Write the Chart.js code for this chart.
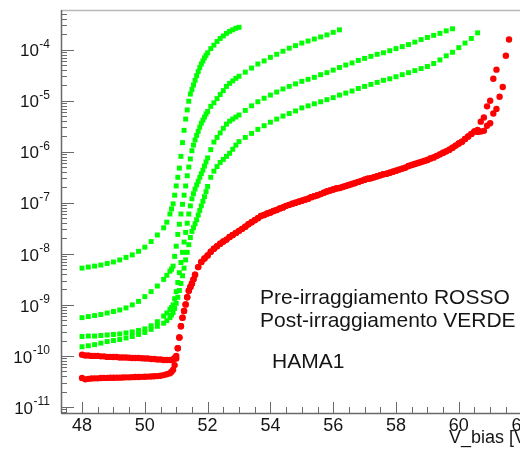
<!DOCTYPE html>
<html>
<head>
<meta charset="utf-8">
<script src="https://cdn.jsdelivr.net/npm/chart.js@4.4.1/dist/chart.umd.min.js"></script>
<style>
  html, body { margin: 0; padding: 0; background: #fff; overflow: hidden; }
  #wrap { width: 540px; height: 449px; }
</style>
</head>
<body>
<div id="wrap"><canvas id="ivChart" width="540" height="449"></canvas></div>
<script>
// ====== Data: HAMA1, I [A] vs V_bias [V] ======
// Pre-irraggiamento (rosso): two scans, flat start differs, then they overlap
const redFlatLow = [
  [48.0, 3.7e-11], [48.1, 3.47e-11], [48.2, 3.55e-11], [48.3, 3.6e-11], [48.4, 3.63e-11],
  [48.5, 3.63e-11], [48.6, 3.68e-11], [48.7, 3.7e-11], [48.8, 3.7e-11], [48.9, 3.72e-11],
  [49.0, 3.72e-11], [49.1, 3.75e-11], [49.2, 3.75e-11], [49.3, 3.78e-11], [49.4, 3.8e-11],
  [49.5, 3.8e-11], [49.6, 3.83e-11], [49.7, 3.85e-11], [49.8, 3.85e-11], [49.9, 3.88e-11],
  [50.0, 3.9e-11], [50.1, 3.93e-11], [50.2, 3.95e-11], [50.3, 3.98e-11], [50.4, 4.02e-11],
  [50.5, 4.07e-11], [50.6, 4.2e-11], [50.7, 4.37e-11], [50.8, 4.57e-11], [50.85, 4.9e-11],
  [50.9, 5.37e-11], [50.95, 6.6e-11], [51.0, 8.9e-11]
];
const redFlatHigh = [
  [48.0, 1.05e-10], [48.1, 1.02e-10], [48.2, 1.02e-10], [48.3, 1.0e-10], [48.4, 1.0e-10],
  [48.5, 1.0e-10], [48.6, 9.8e-11], [48.7, 9.8e-11], [48.8, 9.55e-11], [48.9, 9.55e-11],
  [49.0, 9.5e-11], [49.1, 9.5e-11], [49.2, 9.3e-11], [49.3, 9.3e-11], [49.4, 9.3e-11],
  [49.5, 9.2e-11], [49.6, 9.1e-11], [49.7, 9.1e-11], [49.8, 9.1e-11], [49.9, 9.0e-11],
  [50.0, 8.9e-11], [50.1, 8.9e-11], [50.2, 8.7e-11], [50.3, 8.7e-11], [50.4, 8.5e-11],
  [50.5, 8.5e-11], [50.6, 8.3e-11], [50.7, 8.3e-11], [50.8, 8.3e-11], [50.85, 8.3e-11],
  [50.9, 8.5e-11], [50.95, 9.1e-11], [51.0, 1.0e-10]
];
const redRise = [
  [51.05, 1.41e-10], [51.1, 2.29e-10], [51.15, 3.8e-10], [51.2, 5.6e-10], [51.25, 7.6e-10],
  [51.3, 1.02e-9], [51.35, 1.41e-9], [51.4, 1.9e-9], [51.45, 2.24e-9], [51.5, 2.63e-9],
  [51.55, 3.16e-9], [51.6, 3.89e-9], [51.7, 5.5e-9], [51.8, 6.9e-9], [51.9, 8.1e-9],
  [52.0, 9.3e-9], [52.1, 1.1e-8], [52.2, 1.26e-8], [52.3, 1.41e-8], [52.4, 1.58e-8],
  [52.5, 1.74e-8], [52.6, 1.9e-8], [52.7, 2.14e-8], [52.8, 2.34e-8], [52.9, 2.57e-8],
  [53.0, 2.82e-8], [53.1, 3.09e-8], [53.2, 3.39e-8], [53.3, 3.8e-8], [53.4, 4.17e-8],
  [53.5, 4.57e-8], [53.6, 5.0e-8], [53.7, 5.5e-8], [53.8, 5.75e-8], [53.9, 6.17e-8],
  [54.0, 6.46e-8], [54.1, 6.92e-8], [54.2, 7.24e-8], [54.3, 7.76e-8], [54.4, 8.13e-8],
  [54.5, 8.71e-8], [54.6, 9.12e-8], [54.7, 9.55e-8], [54.8, 1.0e-7], [54.9, 1.05e-7],
  [55.0, 1.1e-7], [55.1, 1.15e-7], [55.2, 1.2e-7], [55.3, 1.29e-7], [55.4, 1.35e-7],
  [55.5, 1.41e-7], [55.6, 1.48e-7], [55.7, 1.58e-7], [55.8, 1.66e-7], [55.9, 1.74e-7],
  [56.0, 1.82e-7], [56.1, 1.91e-7], [56.2, 1.95e-7], [56.3, 2.04e-7], [56.4, 2.14e-7],
  [56.5, 2.24e-7], [56.6, 2.34e-7], [56.7, 2.45e-7], [56.8, 2.57e-7], [56.9, 2.69e-7],
  [57.0, 2.82e-7], [57.1, 2.95e-7], [57.2, 3.02e-7], [57.3, 3.16e-7], [57.4, 3.31e-7],
  [57.5, 3.47e-7], [57.6, 3.63e-7], [57.7, 3.72e-7], [57.8, 3.89e-7], [57.9, 4.07e-7],
  [58.0, 4.27e-7], [58.1, 4.47e-7], [58.2, 4.68e-7], [58.3, 4.9e-7], [58.4, 5.25e-7],
  [58.5, 5.5e-7], [58.6, 5.75e-7], [58.7, 6.03e-7], [58.8, 6.31e-7], [58.9, 6.61e-7],
  [59.0, 6.92e-7], [59.1, 7.41e-7], [59.2, 7.76e-7], [59.3, 8.32e-7], [59.4, 8.91e-7],
  [59.5, 9.55e-7], [59.6, 1.02e-6], [59.7, 1.1e-6], [59.8, 1.2e-6], [59.9, 1.32e-6],
  [60.0, 1.45e-6], [60.1, 1.58e-6], [60.2, 1.78e-6], [60.3, 2.0e-6], [60.4, 2.24e-6],
  [60.5, 2.51e-6]
];
const redTailLow = [
  [60.6, 2.45e-6], [60.7, 2.5e-6], [60.8, 2.57e-6], [60.9, 3.24e-6], [61.0, 3.63e-6],
  [61.1, 5.62e-6], [61.2, 6.92e-6], [61.3, 1.2e-5], [61.4, 1.86e-5]
];
const redTailHigh = [
  [60.6, 2.69e-6], [60.7, 3.89e-6], [60.8, 4.68e-6], [60.9, 7.76e-6], [61.0, 1.0e-5],
  [61.1, 2.69e-5], [61.2, 4.07e-5], [61.5, 7.59e-5], [61.6, 1.58e-4]
];

// Post-irraggiamento (verde): four scans
const green1 = [
  [48.0, 5.25e-9], [48.2, 5.5e-9], [48.4, 5.75e-9], [48.6, 6.03e-9], [48.8, 6.46e-9],
  [49.0, 6.92e-9], [49.2, 7.59e-9], [49.4, 8.51e-9], [49.6, 9.55e-9], [49.8, 1.12e-8],
  [50.0, 1.35e-8], [50.2, 1.74e-8], [50.4, 2.34e-8], [50.6, 3.24e-8], [50.7, 4.17e-8],
  [50.8, 6.03e-8], [50.85, 7.59e-8], [50.9, 9.55e-8], [50.95, 1.41e-7], [51.0, 2.14e-7],
  [51.05, 3.16e-7], [51.1, 4.79e-7], [51.15, 8.13e-7], [51.2, 1.51e-6], [51.25, 2.63e-6],
  [51.3, 4.37e-6], [51.35, 6.61e-6], [51.4, 9.77e-6], [51.45, 1.35e-5], [51.5, 1.66e-5],
  [51.55, 2.04e-5], [51.6, 2.51e-5], [51.65, 3.09e-5], [51.7, 3.72e-5], [51.75, 4.47e-5],
  [51.8, 5.25e-5], [51.85, 6.03e-5], [51.9, 6.92e-5], [51.95, 7.76e-5], [52.0, 8.71e-5],
  [52.1, 1.05e-4], [52.2, 1.23e-4], [52.3, 1.45e-4], [52.4, 1.66e-4], [52.5, 1.86e-4],
  [52.6, 2.09e-4], [52.7, 2.29e-4], [52.8, 2.45e-4], [52.9, 2.63e-4], [53.0, 2.75e-4]
];
const green2 = [
  [48.0, 5.62e-10], [48.2, 5.89e-10], [48.4, 6.17e-10], [48.6, 6.46e-10], [48.8, 6.92e-10],
  [49.0, 7.41e-10], [49.2, 7.94e-10], [49.4, 8.71e-10], [49.6, 1.0e-9], [49.8, 1.17e-9],
  [50.0, 1.45e-9], [50.2, 1.82e-9], [50.4, 2.34e-9], [50.6, 3.16e-9], [50.7, 3.8e-9],
  [50.8, 4.57e-9], [50.85, 5.01e-9], [50.9, 5.75e-9], [50.95, 8.91e-9], [51.0, 1.41e-8],
  [51.05, 2.4e-8], [51.1, 3.8e-8], [51.15, 6.03e-8], [51.2, 9.33e-8], [51.25, 1.41e-7],
  [51.3, 2.14e-7], [51.35, 3.39e-7], [51.4, 5.01e-7], [51.45, 7.24e-7], [51.5, 1.05e-6],
  [51.55, 1.35e-6], [51.6, 1.7e-6], [51.65, 2.09e-6], [51.7, 2.51e-6], [51.75, 3.02e-6],
  [51.8, 3.63e-6], [51.85, 4.17e-6], [51.9, 4.79e-6], [51.95, 5.5e-6], [52.0, 6.17e-6],
  [52.1, 7.76e-6], [52.2, 9.12e-6], [52.3, 1.1e-5], [52.4, 1.32e-5], [52.5, 1.58e-5],
  [52.6, 1.91e-5], [52.7, 2.19e-5], [52.8, 2.45e-5], [52.9, 2.75e-5], [53.0, 3.02e-5],
  [53.2, 3.63e-5], [53.4, 4.37e-5], [53.6, 5.25e-5], [53.8, 6.03e-5], [54.0, 7.08e-5],
  [54.2, 8.13e-5], [54.4, 9.33e-5], [54.6, 1.07e-4], [54.8, 1.2e-4], [55.0, 1.35e-4],
  [55.2, 1.48e-4], [55.4, 1.62e-4], [55.6, 1.78e-4], [55.8, 1.95e-4], [56.0, 2.19e-4],
  [56.2, 2.45e-4]
];
const green3 = [
  [48.0, 2.4e-10], [48.2, 2.45e-10], [48.4, 2.45e-10], [48.6, 2.51e-10], [48.8, 2.57e-10],
  [49.0, 2.63e-10], [49.2, 2.69e-10], [49.4, 2.82e-10], [49.6, 2.95e-10], [49.8, 3.16e-10],
  [50.0, 3.39e-10], [50.2, 3.89e-10], [50.4, 4.68e-10], [50.6, 6.03e-10], [50.7, 6.92e-10],
  [50.8, 8.13e-10], [50.85, 8.91e-10], [50.9, 1.0e-9], [50.95, 1.32e-9], [51.0, 1.82e-9],
  [51.05, 2.75e-9], [51.1, 4.27e-9], [51.15, 6.76e-9], [51.2, 1.07e-8], [51.25, 1.7e-8],
  [51.3, 2.63e-8], [51.35, 3.98e-8], [51.4, 6.03e-8], [51.45, 8.71e-8], [51.5, 1.2e-7],
  [51.55, 1.51e-7], [51.6, 1.86e-7], [51.65, 2.24e-7], [51.7, 2.63e-7], [51.75, 3.16e-7],
  [51.8, 3.72e-7], [51.85, 4.37e-7], [51.9, 5.25e-7], [51.95, 6.31e-7], [52.0, 7.59e-7],
  [52.1, 1.1e-6], [52.2, 1.55e-6], [52.3, 1.91e-6], [52.4, 2.34e-6], [52.5, 2.88e-6],
  [52.6, 3.47e-6], [52.7, 3.98e-6], [52.8, 4.37e-6], [52.9, 4.79e-6], [53.0, 5.25e-6],
  [53.2, 6.46e-6], [53.4, 7.94e-6], [53.6, 9.55e-6], [53.8, 1.12e-5], [54.0, 1.29e-5],
  [54.2, 1.48e-5], [54.4, 1.7e-5], [54.6, 1.91e-5], [54.8, 2.14e-5], [55.0, 2.4e-5],
  [55.2, 2.63e-5], [55.4, 2.88e-5], [55.6, 3.24e-5], [55.8, 3.55e-5], [56.0, 3.98e-5],
  [56.2, 4.47e-5], [56.4, 5.01e-5], [56.6, 5.5e-5], [56.8, 6.17e-5], [57.0, 6.76e-5],
  [57.2, 7.41e-5], [57.4, 8.13e-5], [57.6, 8.71e-5], [57.8, 9.55e-5], [58.0, 1.05e-4],
  [58.2, 1.15e-4], [58.4, 1.26e-4], [58.6, 1.41e-4], [58.8, 1.58e-4], [59.0, 1.74e-4],
  [59.2, 1.91e-4], [59.4, 2.09e-4], [59.6, 2.34e-4], [59.8, 2.57e-4]
];
const green4 = [
  [48.0, 1.51e-10], [48.2, 1.58e-10], [48.4, 1.66e-10], [48.6, 1.78e-10], [48.8, 1.91e-10],
  [49.0, 2.0e-10], [49.2, 2.09e-10], [49.4, 2.24e-10], [49.6, 2.4e-10], [49.8, 2.63e-10],
  [50.0, 2.88e-10], [50.2, 3.31e-10], [50.4, 3.8e-10], [50.6, 4.37e-10], [50.7, 4.9e-10],
  [50.8, 5.62e-10], [50.85, 6.31e-10], [50.9, 7.08e-10], [50.95, 8.51e-10], [51.0, 1.07e-9],
  [51.05, 1.41e-9], [51.1, 1.91e-9], [51.15, 2.63e-9], [51.2, 3.72e-9], [51.25, 5.25e-9],
  [51.3, 7.59e-9], [51.35, 1.07e-8], [51.4, 1.51e-8], [51.45, 2.09e-8], [51.5, 2.75e-8],
  [51.55, 3.24e-8], [51.6, 3.89e-8], [51.65, 4.68e-8], [51.7, 5.75e-8], [51.75, 7.08e-8],
  [51.8, 8.71e-8], [51.85, 1.07e-7], [51.9, 1.32e-7], [51.95, 1.66e-7], [52.0, 2.09e-7],
  [52.1, 3.16e-7], [52.2, 4.17e-7], [52.3, 5.13e-7], [52.4, 6.17e-7], [52.5, 7.08e-7],
  [52.6, 8.13e-7], [52.7, 9.33e-7], [52.8, 1.12e-6], [52.9, 1.35e-6], [53.0, 1.58e-6],
  [53.2, 1.91e-6], [53.4, 2.29e-6], [53.6, 2.75e-6], [53.8, 3.24e-6], [54.0, 3.8e-6],
  [54.2, 4.37e-6], [54.4, 5.01e-6], [54.6, 5.62e-6], [54.8, 6.31e-6], [55.0, 7.24e-6],
  [55.2, 7.94e-6], [55.4, 8.71e-6], [55.6, 9.55e-6], [55.8, 1.05e-5], [56.0, 1.15e-5],
  [56.2, 1.29e-5], [56.4, 1.41e-5], [56.6, 1.55e-5], [56.8, 1.74e-5], [57.0, 1.91e-5],
  [57.2, 2.09e-5], [57.4, 2.29e-5], [57.6, 2.51e-5], [57.8, 2.69e-5], [58.0, 2.95e-5],
  [58.2, 3.24e-5], [58.4, 3.55e-5], [58.6, 3.89e-5], [58.8, 4.27e-5], [59.0, 4.68e-5],
  [59.2, 5.37e-5], [59.4, 6.31e-5], [59.6, 7.59e-5], [59.8, 8.91e-5], [60.0, 1.1e-4],
  [60.2, 1.35e-4], [60.4, 1.66e-4], [60.6, 2.14e-4]
];

// axis ticks
const xTicks = [48, 50, 52, 54, 56, 58, 60, 62];
const yTickExp = [-11, -10, -9, -8, -7, -6, -5, -4];

const notes = ['Pre-irraggiamento ROSSO', 'Post-irraggiamento VERDE', 'HAMA1'];

const FONT = '"Liberation Sans", Arial, Helvetica, sans-serif';
const toXY = arr => arr.map(([x, y]) => ({ x, y }));

// ====== ROOT-like frame, ticks and labels ======
const rootAxes = {
    id: 'rootAxes',
    beforeDatasetsDraw(chart) {
        const { ctx, chartArea: a, scales: { x, y } } = chart;
        const seg = (x1, y1, x2, y2) => { ctx.beginPath(); ctx.moveTo(x1, y1); ctx.lineTo(x2, y2); ctx.stroke(); };
        ctx.save();
        ctx.strokeStyle = '#b8b8b8';
        ctx.lineWidth = 1.5;
        seg(a.left, a.top + 0.5, a.right, a.top + 0.5);

        ctx.strokeStyle = '#6a6a6a';
        ctx.lineWidth = 1.5;
        seg(a.left + 0.5, a.top, a.left + 0.5, a.bottom);
        seg(a.left, a.bottom + 0.5, a.right, a.bottom + 0.5);

        ctx.lineWidth = 1;
        for (let k = 95; k <= 124; k++) {
            const v = k / 2;
            const px = Math.round(x.getPixelForValue(v)) + 0.5;
            const len = xTicks.includes(v) ? 11 : 6;
            seg(px, a.bottom, px, a.bottom - len);
        }
        for (let e = -12; e <= -3; e++) {
            for (let m = 1; m <= 9; m++) {
                const val = m * Math.pow(10, e);
                if (val < y.min || val > y.max) continue;
                const py = Math.round(y.getPixelForValue(val)) + 0.5;
                seg(a.left, py, a.left + (m === 1 ? 13 : 6), py);
            }
        }
        ctx.restore();
    },
    afterDraw(chart) {
        const { ctx, chartArea: a, scales: { x, y } } = chart;
        ctx.save();
        ctx.fillStyle = '#151515';
        ctx.textBaseline = 'middle';

        // x labels
        ctx.font = '18px ' + FONT;
        ctx.textAlign = 'center';
        xTicks.forEach(v => ctx.fillText(String(v), x.getPixelForValue(v), a.bottom + 13));

        // y labels 10^{-n}
        yTickExp.forEach(e => {
            const py = y.getPixelForValue(Math.pow(10, e));
            const sup = '-' + Math.abs(e);
            ctx.font = '12px ' + FONT;
            const w = ctx.measureText(sup).width;
            const right = a.left - 11;
            ctx.textAlign = 'right';
            ctx.fillText(sup, right, py - 5);
            ctx.font = '17px ' + FONT;
            ctx.fillText('10', right - w - 0.5, py + 2);
        });

        // axis title
        ctx.font = '18px ' + FONT;
        ctx.textAlign = 'right';
        ctx.fillText('V_bias [V]', a.right, a.bottom + 25);

        // notes
        ctx.font = '21px ' + FONT;
        ctx.textAlign = 'left';
        ctx.fillText(notes[0], 260, 298);
        ctx.fillText(notes[1], 260, 321);
        ctx.fillText(notes[2], 272, 362);
        ctx.restore();
    }
};

const RED = '#ff0000';
const GREEN = '#00ff00';
const redStyle = { pointStyle: 'circle', pointRadius: 3.2, backgroundColor: RED, borderWidth: 0, showLine: false };
const greenStyle = { pointStyle: 'rect', pointRadius: 3.5, backgroundColor: GREEN, borderWidth: 0, showLine: false };

new Chart(document.getElementById('ivChart'), {
    type: 'scatter',
    data: {
        datasets: [
            { label: 'Pre A', data: toXY([...redFlatLow, ...redRise, ...redTailLow]), ...redStyle },
            { label: 'Pre B', data: toXY([...redFlatHigh, ...redRise, ...redTailHigh]), ...redStyle },
            { label: 'Post 1', data: toXY(green1), ...greenStyle },
            { label: 'Post 2', data: toXY(green2), ...greenStyle },
            { label: 'Post 3', data: toXY(green3), ...greenStyle },
            { label: 'Post 4', data: toXY(green4), ...greenStyle }
        ]
    },
    options: {
        responsive: false,
        devicePixelRatio: 1,
        animation: false,
        events: [],
        layout: { padding: { left: 61, top: 10, right: 9, bottom: 36 } },
        plugins: { legend: { display: false }, tooltip: { enabled: false } },
        scales: {
            x: { type: 'linear', min: 47.33, max: 62.3, display: false },
            y: { type: 'logarithmic', min: 7.6e-12, max: 6.0e-4, display: false }
        }
    },
    plugins: [rootAxes]
});
</script>
</body>
</html>
